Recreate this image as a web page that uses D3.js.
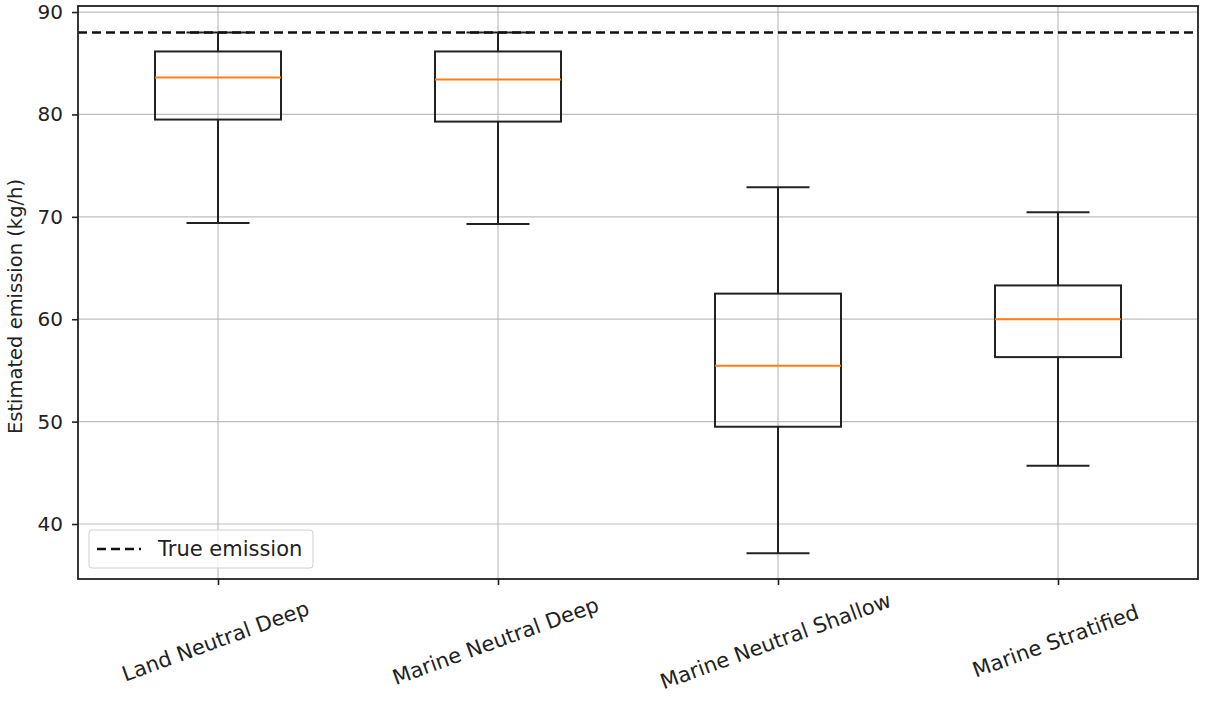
<!DOCTYPE html>
<html>
<head>
<meta charset="utf-8">
<script src="https://cdn.jsdelivr.net/npm/d3@7"></script>
<style>
  body { margin: 0; background: #fff; }
  svg, svg text { font-family: 'DejaVu Sans', sans-serif; }
  .grid line { stroke: #b0b0b0; stroke-width: 1.2; opacity: 0.8; }
  .axis text { font-size: 20px; fill: #222; font-family: 'DejaVu Sans', sans-serif; }
  .axis--x text { font-size: 21px; }
  .axis path, .axis line { stroke: #222; stroke-width: 1.6; }
</style>
</head>
<body>
<svg width="1206" height="702"></svg>
<script>
// data
const categories = ['Land Neutral Deep', 'Marine Neutral Deep', 'Marine Neutral Shallow', 'Marine Stratified'];
const whiskerLow = [69.4, 69.3, 37.15, 45.7];
const q1 = [79.5, 79.3, 49.5, 56.3];
const medians = [83.6, 83.4, 55.45, 60.0];
const q3 = [86.15, 86.15, 62.5, 63.3];
const whiskerHigh = [88.0, 88.0, 72.9, 70.45];
const trueEmission = 88;
const yTicks = [40, 50, 60, 70, 80, 90];

const margin = { top: 6, right: 8, bottom: 123, left: 78 };
const width = 1206 - margin.left - margin.right;
const height = 702 - margin.top - margin.bottom;

const svg = d3.select('svg')
  .append('g')
  .attr('transform', 'translate(' + margin.left + ',' + margin.top + ')');

const x = d3.scaleLinear().domain([0.5, 4.5]).range([0, width]);
const y = d3.scaleLinear().domain([34.63, 90.59]).range([height, 0]);

const boxW = 0.45;
const capW = 0.225;

// grid
const grid = svg.append('g').attr('class', 'grid');
grid.selectAll('.gy').data(yTicks).enter().append('line')
  .attr('x1', 0).attr('x2', width)
  .attr('y1', d => y(d)).attr('y2', d => y(d));
grid.selectAll('.gx').data(categories).enter().append('line')
  .attr('x1', (d, i) => x(i + 1)).attr('x2', (d, i) => x(i + 1))
  .attr('y1', 0).attr('y2', height);

// boxes
const boxes = categories.map((c, i) => ({
  pos: i + 1, lo: whiskerLow[i], q1: q1[i], med: medians[i], q3: q3[i], hi: whiskerHigh[i]
}));

const g = svg.selectAll('.box').data(boxes).enter().append('g').attr('class', 'box');

g.append('line')
  .attr('x1', d => x(d.pos)).attr('x2', d => x(d.pos))
  .attr('y1', d => y(d.q1)).attr('y2', d => y(d.lo))
  .attr('stroke', '#222').attr('stroke-width', 2);
g.append('line')
  .attr('x1', d => x(d.pos)).attr('x2', d => x(d.pos))
  .attr('y1', d => y(d.q3)).attr('y2', d => y(d.hi))
  .attr('stroke', '#222').attr('stroke-width', 2);
g.append('line')
  .attr('x1', d => x(d.pos - capW / 2)).attr('x2', d => x(d.pos + capW / 2))
  .attr('y1', d => y(d.lo)).attr('y2', d => y(d.lo))
  .attr('stroke', '#222').attr('stroke-width', 2);
g.append('line')
  .attr('x1', d => x(d.pos - capW / 2)).attr('x2', d => x(d.pos + capW / 2))
  .attr('y1', d => y(d.hi)).attr('y2', d => y(d.hi))
  .attr('stroke', '#222').attr('stroke-width', 2);
g.append('rect')
  .attr('x', d => x(d.pos - boxW / 2))
  .attr('width', x(boxW) - x(0))
  .attr('y', d => y(d.q3))
  .attr('height', d => y(d.q1) - y(d.q3))
  .attr('fill', 'none').attr('stroke', '#222').attr('stroke-width', 2);
g.append('line')
  .attr('x1', d => x(d.pos - boxW / 2)).attr('x2', d => x(d.pos + boxW / 2))
  .attr('y1', d => y(d.med)).attr('y2', d => y(d.med))
  .attr('stroke', '#ff7f0e').attr('stroke-width', 2);

// true emission line
svg.append('line')
  .attr('x1', 0).attr('x2', width)
  .attr('y1', y(trueEmission)).attr('y2', y(trueEmission))
  .attr('stroke', '#111').attr('stroke-width', 2.6)
  .attr('stroke-dasharray', '9,5');

// axes
svg.append('g')
  .attr('class', 'axis axis--y')
  .call(d3.axisLeft(y).tickValues(yTicks).tickSize(6).tickPadding(9).tickFormat(d3.format('d')))
  .call(s => s.select('.domain').remove());

const xAxis = svg.append('g')
  .attr('class', 'axis axis--x')
  .attr('transform', 'translate(0,' + height + ')')
  .call(d3.axisBottom(x).tickValues([1, 2, 3, 4]).tickSize(6).tickFormat(d => categories[d - 1]))
  .call(s => s.select('.domain').remove());
xAxis.selectAll('text')
  .attr('y', 0).attr('dy', '0.35em')
  .style('text-anchor', 'middle')
  .attr('transform', 'translate(-3,62) rotate(-20)');

// frame
svg.append('rect')
  .attr('width', width).attr('height', height)
  .attr('fill', 'none').attr('stroke', '#222').attr('stroke-width', 1.8);

// y label
svg.append('text')
  .attr('transform', 'translate(' + (-56) + ',' + (height / 2 + 14) + ') rotate(-90)')
  .style('text-anchor', 'middle')
  .style('font-size', '19.5px')
  .attr('fill', '#222')
  .text('Estimated emission (kg/h)');

// legend
const legend = svg.append('g').attr('transform', 'translate(11,' + (y(40) + 6) + ')');
legend.append('rect')
  .attr('width', 224).attr('height', 38).attr('rx', 3)
  .attr('fill', 'rgba(255,255,255,0.8)').attr('stroke', '#d0d0d0').attr('stroke-width', 1);
legend.append('line')
  .attr('x1', 8).attr('x2', 52).attr('y1', 19).attr('y2', 19)
  .attr('stroke', '#111').attr('stroke-width', 2.6).attr('stroke-dasharray', '9,5');
legend.append('text')
  .attr('x', 69).attr('y', 19).attr('dy', '0.35em')
  .style('font-size', '21px').attr('fill', '#222')
  .text('True emission');
</script>
</body>
</html>
